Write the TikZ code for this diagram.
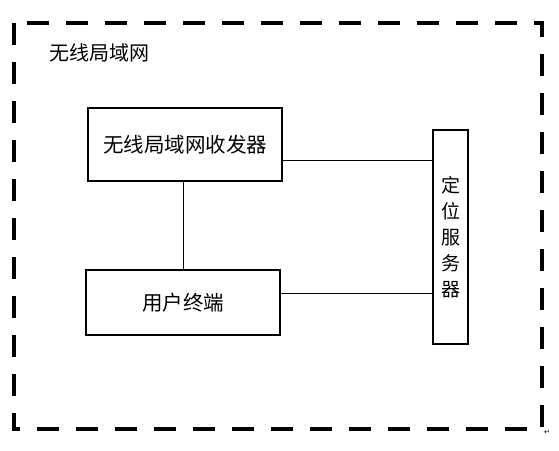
\documentclass[tikz,border=0pt]{standalone}
\usepackage{fontspec}
\newfontfamily\cjk{Noto Sans CJK SC}
\newfontfamily\dejavu{DejaVu Sans}
\begin{document}
\begin{tikzpicture}[x=1pt,y=-1pt,
  boxstyle/.style={draw, line width=1.2pt, inner sep=0pt, font=\cjk\fontsize{20.5}{20.5}\selectfont},
  conn/.style={line width=1pt},
  border/.style={line width=3.5pt, dash pattern=on 22pt off 17pt}]
\useasboundingbox (0,0) rectangle (559,450);
\draw[border] (14,23) rectangle (542,429);
\node[font=\cjk\fontsize{20}{20}\selectfont, anchor=west] (lbl) at (46,53) {无线局域网};
\node[boxstyle, minimum width=194pt, minimum height=73pt] (tx) at (185,144.5) {无线局域网收发器};
\node[boxstyle, minimum width=194pt, minimum height=65pt] (ut) at (183,302.5) {用户终端};
\node[boxstyle, font=\cjk\fontsize{19}{19}\selectfont, minimum width=35pt, minimum height=214pt, align=center] (srv) at (450.5,237)
  {定\\[7pt]位\\[7pt]服\\[7pt]务\\[7pt]器};
\draw[conn] (tx.south -| 183,0) -- (ut.north -| 183,0);
\draw[conn] (tx.east |- 0,160) -- (srv.west |- 0,160);
\draw[conn] (ut.east |- 0,293) -- (srv.west |- 0,293);
\node[font=\dejavu\fontsize{7}{7}\selectfont, anchor=west, inner sep=0pt] (ret) at (544,432) {↵};
\end{tikzpicture}
\end{document}
